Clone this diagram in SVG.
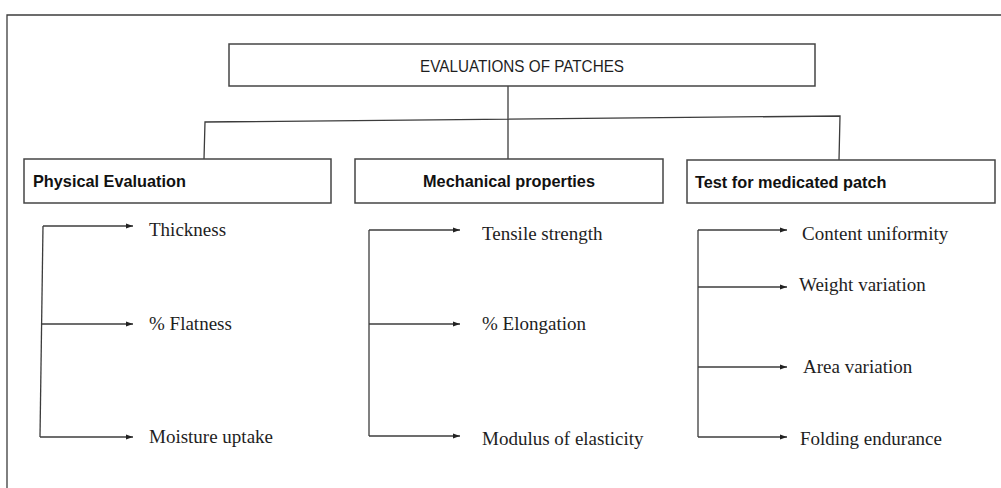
<svg xmlns="http://www.w3.org/2000/svg" width="1001" height="488" viewBox="0 0 1001 488">
  <style>
    .box { fill: #ffffff; stroke: #454545; stroke-width: 1.5; }
    .ln { fill: none; stroke: #3c3c3c; stroke-width: 1.3; }
    .arr { fill: none; stroke: #3c3c3c; stroke-width: 1.3; marker-end: url(#ah); }
    .title { font-family: "Liberation Sans", Arial, sans-serif; font-size: 16.5px; fill: #1e1e1e; }
    .hdr { font-family: "Liberation Sans", Arial, sans-serif; font-size: 16.3px; font-weight: bold; fill: #111111; }
    .item { font-family: "Liberation Serif", "Times New Roman", serif; font-size: 19px; fill: #1e1e1e; }
  </style>
  <defs>
    <marker id="ah" markerUnits="userSpaceOnUse" markerWidth="8" markerHeight="6" refX="7" refY="3" orient="auto">
      <path d="M0,0.6 L7,3 L0,5.4 Z" fill="#222222"/>
    </marker>
  </defs>
  <rect width="1001" height="488" fill="#ffffff"/>
  <g id="frame">
    <polyline class="ln" points="7,488 7,15 1001,15"/>
  </g>
  <g id="connectors">
    <line class="ln" x1="508" y1="86" x2="508" y2="159"/>
    <polyline class="ln" points="204,159 205,122 840,116 839,160"/>
    <line class="ln" x1="43" y1="226" x2="40" y2="437"/>
    <line class="arr" x1="43" y1="226" x2="133" y2="226"/>
    <line class="arr" x1="41.5" y1="324" x2="133" y2="324"/>
    <line class="arr" x1="40" y1="437" x2="133" y2="437"/>
    <line class="ln" x1="369" y1="230" x2="369" y2="436"/>
    <line class="arr" x1="369" y1="230" x2="460" y2="230"/>
    <line class="arr" x1="369" y1="324" x2="460" y2="324"/>
    <line class="arr" x1="369" y1="436" x2="460" y2="436"/>
    <line class="ln" x1="698" y1="230" x2="698" y2="437"/>
    <line class="arr" x1="698" y1="230" x2="787" y2="230"/>
    <line class="arr" x1="698" y1="287" x2="787" y2="287"/>
    <line class="arr" x1="698" y1="367" x2="787" y2="367"/>
    <line class="arr" x1="698" y1="437" x2="787" y2="437"/>
  </g>
  <g id="node-root">
    <rect class="box" x="229" y="44" width="586" height="42"/>
    <text class="title" x="522" y="72" text-anchor="middle" textLength="204" lengthAdjust="spacingAndGlyphs">EVALUATIONS OF PATCHES</text>
  </g>
  <g id="node-physical">
    <rect class="box" x="24" y="159" width="307" height="44"/>
    <text class="hdr" x="33" y="187">Physical Evaluation</text>
  </g>
  <g id="node-mechanical">
    <rect class="box" x="355" y="159" width="308" height="44"/>
    <text class="hdr" x="509" y="187" text-anchor="middle">Mechanical properties</text>
  </g>
  <g id="node-medicated">
    <rect class="box" x="687" y="160" width="308" height="43"/>
    <text class="hdr" x="695" y="188">Test for medicated patch</text>
  </g>
  <g id="node-thickness"><text class="item" x="149" y="236">Thickness</text></g>
  <g id="node-flatness"><text class="item" x="149" y="330">% Flatness</text></g>
  <g id="node-moisture"><text class="item" x="149" y="443">Moisture uptake</text></g>
  <g id="node-tensile"><text class="item" x="482" y="240">Tensile strength</text></g>
  <g id="node-elongation"><text class="item" x="482" y="330">% Elongation</text></g>
  <g id="node-modulus"><text class="item" x="482" y="445">Modulus of elasticity</text></g>
  <g id="node-content"><text class="item" x="802" y="240">Content uniformity</text></g>
  <g id="node-weight"><text class="item" x="799" y="291">Weight variation</text></g>
  <g id="node-area"><text class="item" x="803" y="373">Area variation</text></g>
  <g id="node-folding"><text class="item" x="800" y="445">Folding endurance</text></g>
</svg>
